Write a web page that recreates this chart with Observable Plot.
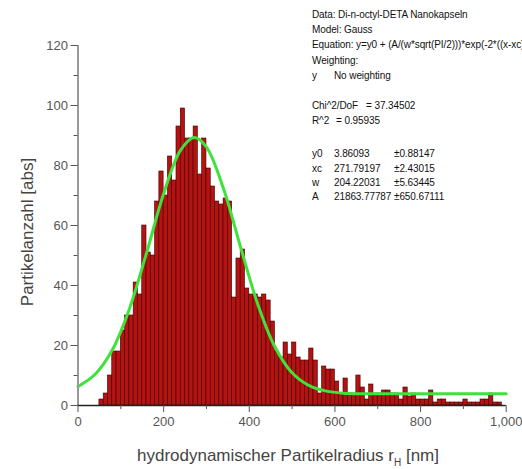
<!DOCTYPE html>
<html><head><meta charset="utf-8">
<script src="https://cdn.jsdelivr.net/npm/d3@7"></script>
<script src="https://cdn.jsdelivr.net/npm/@observablehq/plot@0.6"></script>
<style>
html,body{margin:0;padding:0;background:#fff;}
#wrap{position:relative;width:522px;height:469px;overflow:hidden;font-family:"Liberation Sans",Arial,sans-serif;}
#info{position:absolute;left:0;top:0;width:522px;height:220px;overflow:hidden;font-size:10px;color:#111;pointer-events:none;}
#info span{position:absolute;white-space:nowrap;line-height:12px;letter-spacing:-0.1px;}
</style></head><body><div id="wrap"><div id="info"></div></div>
<script>
// Histogram: left edge of each 10 nm bin and the particle count
const binStart = [50,60,70,80,90,100,110,120,130,140,150,160,170,180,190,200,210,220,230,240,250,260,270,280,290,300,310,320,330,340,350,360,370,380,390,400,410,420,430,440,450,460,470,480,490,500,510,520,530,540,550,560,570,580,590,600,610,620,630,640,650,660,670,680,690,700,710,720,730,740,750,760,770,780,790,800,810,820,830,840,850,860,870,880,890,900,910,920,930,940,950,960,970,980];
const counts   = [2,4,10,18,18,25,30,30,41,37,60,51,50,68,78,70,83,75,93,99,89,89,93,77,89,79,73,68,67,69,68,36,49,52,39,37,37,36,37,35,28,18,16,21,17,21,16,15,15,19,15,4,13,12,12,8,4,9,4,4,10,6,2,7,4,4,5,5,4,4,2,6,3,4,2,2,2,5,1,2,2,1,1,1,1,2,1,1,1,2,2,4,1,1];
const binWidth = 10;

// Gauss fit curve
const fitX = [0,40,80,120,160,200,240,272,300,340,380,420,460,500,540,580,620,660,700,800,900,1000];
const fitY = [6.3,10.4,18.5,32.2,50.8,70.6,85.2,89.3,86.1,72.2,52.6,33.7,19.5,10.9,6.6,4.8,4.1,3.9,3.9,3.9,3.9,3.9];

const yTicks = [0,20,40,60,80,100,120];
const yMinor = [10,30,50,70,90,110];
const xTicks = [0,200,400,600,800,1000];
const xMinor = [100,300,500,700,900];

const infoRows = [
  ["Data: Di-n-octyl-DETA Nanokapseln"],
  ["Model: Gauss"],
  ["Equation: y=y0 + (A/(w*sqrt(PI/2)))*exp(-2*((x-xc)/w)^2)"],
  ["Weighting:"],
  ["y", "No weighting"],
  ["Chi^2/DoF", "= 37.34502"],
  ["R^2", "= 0.95935"],
  ["y0", "3.86093", "±0.88147"],
  ["xc", "271.79197", "±2.43015"],
  ["w", "204.22031", "±5.63445"],
  ["A", "21863.77787", "±650.67111"]
];

const bins = binStart.map((x0, i) => ({x0, x1: x0 + binWidth, count: counts[i]}));
const fit = fitX.map((x, i) => ({x, y: fitY[i]}));

const plot = Plot.plot({
  width: 522, height: 469,
  marginLeft: 77.5, marginRight: 16.3, marginTop: 45, marginBottom: 64,
  style: {fontFamily: "'Liberation Sans', Arial, sans-serif", fontSize: "13px", color: "#555", background: "white"},
  x: {domain: [0, 1000]},
  y: {domain: [0, 120]},
  marks: [
    Plot.rect(bins, {x1: "x0", x2: "x1", y1: 0, y2: "count", fill: "#b51212", stroke: "#3c0000", strokeWidth: 0.6}),
    Plot.line(fit, {x: "x", y: "y", stroke: "#3fe23a", strokeWidth: 3, curve: "catmull-rom"}),
    Plot.ruleX([0], {stroke: "#999", strokeWidth: 2}),
    Plot.ruleY([0], {stroke: "#222", strokeWidth: 1.5}),
    Plot.axisY(yTicks, {tickSize: 7, tickPadding: 3, label: null}),
    Plot.axisY(yMinor, {tickSize: 4, tickFormat: () => "", label: null}),
    Plot.axisX(xTicks, {tickSize: 7, tickPadding: 4, label: null}),
    Plot.axisX(xMinor, {tickSize: 4, tickFormat: () => "", label: null})
  ]
});
document.getElementById("wrap").insertBefore(plot, document.getElementById("info"));

const svg = d3.select(plot);
svg.append("text")
  .attr("transform", "translate(29,232) rotate(-90)")
  .attr("text-anchor", "middle").attr("dominant-baseline", "middle")
  .attr("fill", "#444").style("font-size", "17px")
  .text("Partikelanzahl [abs]");
const xt = svg.append("text")
  .attr("x", 288).attr("y", 461)
  .attr("text-anchor", "middle")
  .attr("fill", "#444").style("font-size", "17px");
xt.append("tspan").text("hydrodynamischer Partikelradius r");
xt.append("tspan").attr("dy", 5).style("font-size", "10px").text("H");
xt.append("tspan").attr("dy", -5).text(" [nm]");

// info box
const rowY = [15, 30, 45, 61, 76, 106, 121, 154, 169, 183, 197];
const colX = {1: [312], 2: [312, 334], 3: [312, 334, 394]};
const info = d3.select("#info");
infoRows.forEach((row, i) => {
  let cols = colX[row.length];
  if (row[0] === "Chi^2/DoF") cols = [312, 366];
  if (row[0] === "R^2") cols = [312, 336];
  row.forEach((t, j) => {
    info.append("span").style("left", cols[j] + "px").style("top", (rowY[i] - 6) + "px").text(t);
  });
});
</script></body></html>
